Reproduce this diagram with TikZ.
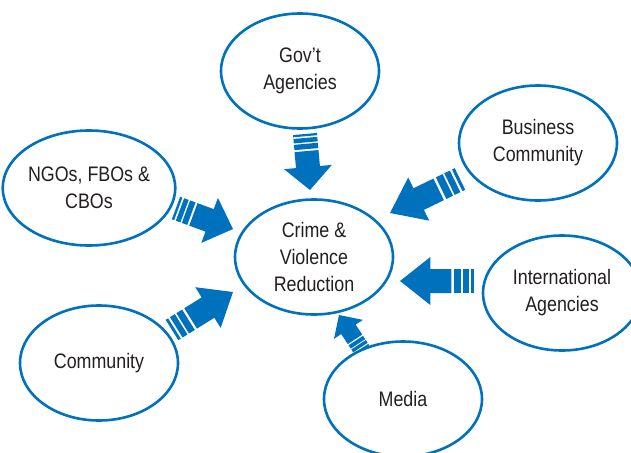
\documentclass[tikz,border=0pt]{standalone}
\usepackage{fontspec}
\setmainfont{Liberation Sans}[FakeStretch=0.85]
\usetikzlibrary{shapes.geometric,calc}

\definecolor{ablue}{RGB}{0,113,188}
\definecolor{txt}{RGB}{35,31,32}

\tikzset{
	bubble/.style={ellipse, draw=ablue, line width=2.6pt, fill=white,
		minimum width=158pt, minimum height=115pt, inner sep=0pt,
		align=center, text=txt, font=\fontsize{21}{27}\selectfont},
}

% striped block arrow from #2 to #3, #1 = width factor
\newcommand{\stripearrow}[3][1]{%
	\path let \p1=($(#3)-(#2)$) in \pgfextra{%
		\pgfmathparse{atan2(\y1,\x1)}\xdef\arrang{\pgfmathresult}%
		\pgfmathparse{veclen(\x1,\y1)}\xdef\arrlen{\pgfmathresult}};
	\begin{scope}[shift={(#2)}, rotate=\arrang, x=\arrlen pt, y=#1pt]
		\fill[ablue] (0,-12) rectangle (0.04,12);
		\fill[ablue] (0.07,-12) rectangle (0.15,12);
		\fill[ablue] (0.175,-12) rectangle (0.27,12);
		\fill[ablue] (0.305,-12) -- (0.59,-12) -- (0.59,-24) -- (1,0)
			-- (0.59,24) -- (0.59,12) -- (0.305,12) -- cycle;
	\end{scope}}

\begin{document}
\begin{tikzpicture}[x=1pt, y=-1pt]
	\useasboundingbox (0,0) rectangle (631,452);
	\clip (0,0) rectangle (631,452);

	% arrow ends
	\coordinate (govT) at (305,134);
	\coordinate (govH) at (310,190);
	\coordinate (ngoT) at (176,208);
	\coordinate (ngoH) at (233,229);
	\coordinate (bizT) at (460,179);
	\coordinate (bizH) at (390,213);
	\coordinate (intT) at (474,281);
	\coordinate (intH) at (400,281);
	\coordinate (comT) at (172,330);
	\coordinate (comH) at (233,292);
	\coordinate (medT) at (362,350);
	\coordinate (medH) at (339,315);

	\stripearrow{govT}{govH}
	\stripearrow{ngoT}{ngoH}
	\stripearrow{bizT}{bizH}
	\stripearrow{intT}{intH}
	\stripearrow{comT}{comH}
	\stripearrow[0.72]{medT}{medH}

	\node[bubble] at (300,71) (gov) {Gov’t\\Agencies};
	\node[bubble] at (538,143) (biz) {Business\\Community};
	\node[bubble] at (89,188) (ngo) {NGOs, FBOs \&\\CBOs};
	\node[bubble] at (314,257) (crime) {Crime \&\\Violence\\Reduction};
	\node[bubble] at (562,293) (intl) {International\\Agencies};
	\node[bubble] at (99,363) (comm) {Community};
	\node[bubble] at (403,399) (media) {Media};

\end{tikzpicture}
\end{document}
